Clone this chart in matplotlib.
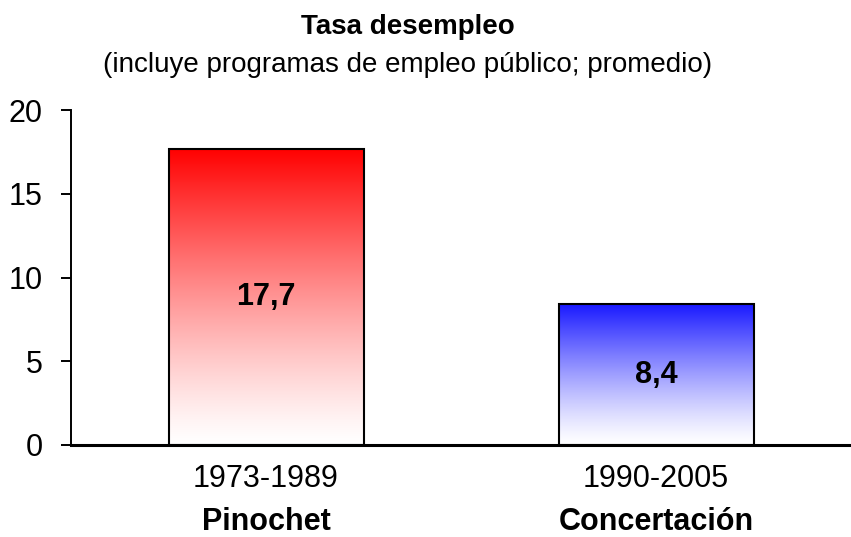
import numpy as np
import matplotlib
matplotlib.use('Agg')
import matplotlib.pyplot as plt
from matplotlib.colors import to_rgb

# 数据
periodos = ['1973-1989', '1990-2005']
gobiernos = ['Pinochet', 'Concertación']
tasa = [17.7, 8.4]
colores = ['#ff0000', '#1a1aff']

plt.rcParams['font.family'] = ['Liberation Sans', 'DejaVu Sans']

fig = plt.figure(figsize=(8.51, 5.37), dpi=100)
ax = fig.add_axes((71 / 851, 1 - 445 / 537, 1 - 71 / 851, (445 - 110) / 537))

x = np.arange(len(tasa))
bars = ax.bar(x, tasa, width=0.5, facecolor='none', edgecolor='black',
              linewidth=1.5, zorder=3)

# 渐变填充：顶部为纯色，底部为白色
for bar, color in zip(bars, colores):
    c = np.array(to_rgb(color))
    t = np.linspace(0, 1, 256) ** 1.25
    grad = (1 - t)[:, None] * np.ones(3) + t[:, None] * c
    grad = grad[:, None, :]
    x0, w, h = bar.get_x(), bar.get_width(), bar.get_height()
    ax.imshow(grad, extent=(x0, x0 + w, 0, h), origin='lower',
              aspect='auto', interpolation='bilinear', zorder=2)
    ax.text(bar.get_x() + w / 2, h / 2, f'{h:.1f}'.replace('.', ','),
            ha='center', va='center', fontsize=22, fontweight='bold', zorder=4)

ax.set_xlim(-0.5, len(tasa) - 0.5)
ax.set_ylim(0, 20)
ax.set_yticks([0, 5, 10, 15, 20])
ax.set_xticks(x)
ax.set_xticklabels(periodos, fontsize=22)
ax.tick_params(axis='x', length=0, pad=14)
ax.tick_params(axis='y', length=7, width=1.4, labelsize=22, pad=13.5)

for i, g in enumerate(gobiernos):
    ax.annotate(g, xy=(i, 0), xycoords=('data', 'axes fraction'),
                xytext=(0, -77 * 72 / 100), textcoords='offset points',
                ha='center', va='center', fontsize=22, fontweight='bold',
                annotation_clip=False)

ax.spines['top'].set_visible(False)
ax.spines['right'].set_visible(False)
ax.spines['left'].set_linewidth(1.4)
ax.spines['bottom'].set_linewidth(2.2)
ax.spines['bottom'].set_zorder(5)

fig.text(408 / 851, 1 - 27 / 537, 'Tasa desempleo', ha='center', va='center',
         fontsize=20, fontweight='bold')
fig.text(408 / 851, 1 - 65 / 537, '(incluye programas de empleo público; promedio)',
         ha='center', va='center', fontsize=20)

plt.savefig('out.png', dpi=100)
plt.close()
